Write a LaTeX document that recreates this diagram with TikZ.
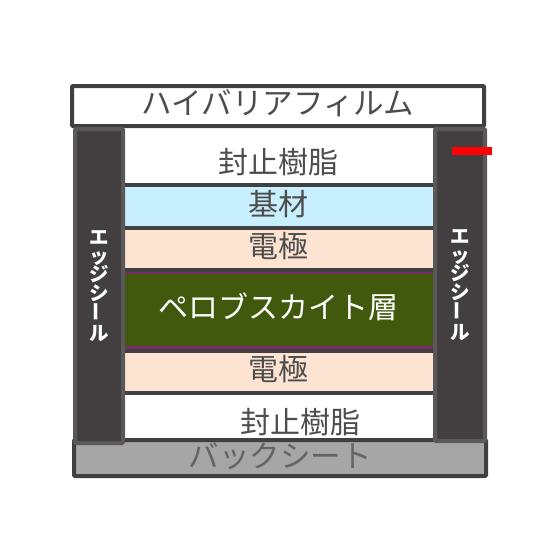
\documentclass[tikz,border=0pt]{standalone}
\usepackage{fontspec}
\setmainfont{Noto Sans CJK JP}
\usetikzlibrary{positioning}
\definecolor{linegray}{HTML}{404040}
\definecolor{sealfill}{HTML}{433F40}
\definecolor{sealedge}{HTML}{5A5858}
\definecolor{basefill}{HTML}{C7EFFD}
\definecolor{electfill}{HTML}{FDE4D2}
\definecolor{perofill}{HTML}{41590D}
\definecolor{peroline}{HTML}{7B2A68}
\definecolor{backfill}{HTML}{A6A6A6}
\definecolor{textgray}{HTML}{4D4D4D}
\definecolor{backtext}{HTML}{646464}
\tikzset{
  layer/.style = {shape=rectangle, anchor=north, inner sep=0pt,
                  minimum width=311pt, text=textgray,
                  text height=21pt, text depth=4pt,
                  font=\fontsize{30}{32}\selectfont},
  sealbar/.style = {shape=rectangle, rounded corners=1pt,
                    fill=sealfill, draw=sealedge, line width=4pt,
                    inner sep=0pt, text=white, align=center,
                    font=\fontsize{19.5}{18.5}\selectfont\bfseries},
  filmbox/.style = {shape=rectangle, rounded corners=1pt,
                    draw=linegray, line width=4pt, inner sep=0pt,
                    minimum width=412pt, text height=21pt, text depth=4pt,
                    font=\fontsize{30.5}{32}\selectfont},
  sepline/.style = {draw=linegray, line width=4pt}
}
\newcommand{\sealtext}{エ\\ッ\\ジ\\シ\\\rotatebox{90}{ー}\\ル}
\begin{document}
\begin{tikzpicture}[x=1pt,y=-1pt]
  \useasboundingbox (0,0) rectangle (560,560);
  \node (restop) [layer, fill=white, minimum height=57pt, text height=38pt] at (278.5,128) {封止樹脂};
  \node (base) [layer, fill=basefill, minimum height=42pt, below=0pt of restop] {基材};
  \node (electop) [layer, fill=electfill, minimum height=42pt, below=0pt of base] {電極};
  \node (pero) [layer, fill=perofill, minimum height=80pt, text=white, below=0pt of electop] {ペロブスカイト層};
  \node (elecbot) [layer, fill=electfill, minimum height=42pt, below=0pt of pero] {電極};
  \node (resbot) [layer, fill=white, minimum height=47pt, text height=38pt, below=0pt of elecbot] {\hspace*{44pt}封止樹脂};

  \draw [peroline, line width=1.5pt] ([yshift=-2.8pt]pero.north west) -- ([yshift=-2.8pt]pero.north east);
  \draw [peroline, line width=3pt] ([yshift=3pt]pero.south west) -- ([yshift=3pt]pero.south east);

  \draw [sepline] (restop.south west) -- (restop.south east);
  \draw [sepline] (base.south west) -- (base.south east);
  \draw [sepline] (electop.south west) -- (electop.south east);
  \draw [sepline] (pero.south west) -- (pero.south east);
  \draw [sepline] (elecbot.south west) -- (elecbot.south east);

  \node (film) [filmbox, fill=white, minimum height=40pt, text=textgray] at (278,106) {ハイバリアフィルム};
  \node (back) [filmbox, fill=backfill, minimum height=36pt, text=backtext, text height=23pt] at (280,458) {バックシート};

  \node (sealleft) [sealbar, minimum width=48pt, minimum height=314pt] at (99,286) {\sealtext};
  \node (sealright) [sealbar, minimum width=50pt, minimum height=312pt] at (460,285) {\sealtext};

  \node (mark) [shape=rectangle, fill=red, inner sep=0pt, minimum width=40pt, minimum height=8pt] at (472,151) {};
\end{tikzpicture}
\end{document}
